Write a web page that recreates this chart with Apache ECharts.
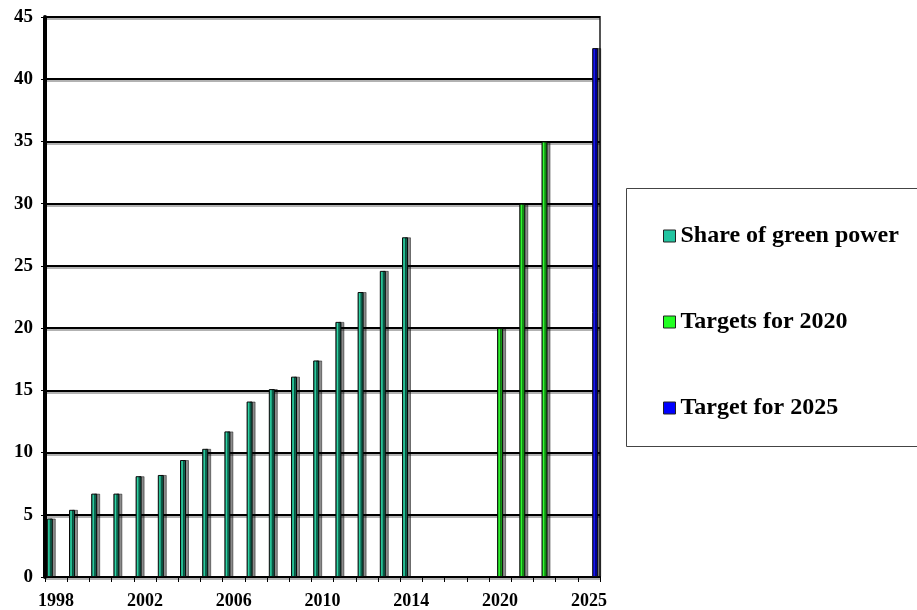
<!DOCTYPE html>
<html>
<head>
<meta charset="utf-8">
<script src="https://cdn.jsdelivr.net/npm/echarts@6/dist/echarts.min.js"></script>
<style>html,body{margin:0;padding:0;background:#fff;}#c{width:917px;height:610px;}</style>
</head>
<body>
<div id="c"></div>
<script>
// Slots along the category axis (25 slots)
const categories = ['1998','1999','2000','2001','2002','2003','2004','2005','2006','2007','2008','2009','2010','2011','2012','2013','2014','gap1','gap2','gap3','2020a','2020b','2020c','gap4','2025'];
// Tick labels shown under the slots
const tickLabels = ['1998','','','','2002','','','','2006','','','','2010','','','','2014','','','','2020','','','','2025'];
const greenShare = [4.7,5.4,6.7,6.7,8.1,8.2,9.4,10.3,11.7,14.1,15.1,16.1,17.4,20.5,22.9,24.6,27.3,null,null,null,null,null,null,null,null];
const targets2020 = [null,null,null,null,null,null,null,null,null,null,null,null,null,null,null,null,null,null,null,null,20,30,35,null,null];
const target2025 = [null,null,null,null,null,null,null,null,null,null,null,null,null,null,null,null,null,null,null,null,null,null,null,null,42.5];
const yTicks = [0,5,10,15,20,25,30,35,40,45];
const seriesNames = ['Share of green power','Targets for 2020','Target for 2025'];

function grad(stops){
  return new echarts.graphic.LinearGradient(0,0,1,0,stops.map((c,i)=>({offset:i/(stops.length-1),color:c})));
}
const FONT = '"Liberation Serif","Times New Roman",serif';
const chart = echarts.init(document.getElementById('c'), null, {renderer:'canvas'});
const barStyle = (stops) => ({
  color: grad(stops),
  borderColor:'#0a0a0a', borderWidth:1,
  shadowColor:'rgba(0,0,0,0.45)', shadowOffsetX:3, shadowOffsetY:0, shadowBlur:0
});
chart.setOption({
  animation:false,
  backgroundColor:'#fff',
  grid:{left:45,right:317,top:17,bottom:32,show:true,borderColor:'#555',borderWidth:2,backgroundColor:'transparent'},
  graphic:[{type:'rect',left:624,top:186,shape:{width:300,height:258},style:{fill:'none',stroke:'#444',lineWidth:1},z:-1}],
  legend:{
    orient:'vertical', left:658, top:219, itemGap:62, itemWidth:12, itemHeight:12, icon:'rect',
    textStyle:{fontFamily:FONT,fontWeight:'bold',fontSize:24,color:'#000'},
    data:[
      {name:seriesNames[0],itemStyle:{color:'#22c4a0',borderColor:'#222',borderWidth:1,shadowBlur:0,shadowOffsetX:0}},
      {name:seriesNames[1],itemStyle:{color:'#22ff22',borderColor:'#222',borderWidth:1,shadowBlur:0,shadowOffsetX:0}},
      {name:seriesNames[2],itemStyle:{color:'#0000ff',borderColor:'#222',borderWidth:1,shadowBlur:0,shadowOffsetX:0}}
    ]
  },
  xAxis:{
    type:'category', data:categories, boundaryGap:true,
    axisLine:{lineStyle:{color:'#000',width:2}},
    axisTick:{show:true,interval:0,length:5,lineStyle:{color:'#000',width:1}},
    axisLabel:{interval:0,margin:15,formatter:(v,i)=>tickLabels[i],fontFamily:FONT,fontWeight:'bold',fontSize:18,color:'#000'},
    splitLine:{show:false}
  },
  yAxis:{
    type:'value', min:yTicks[0], max:yTicks[yTicks.length-1], interval:5,
    axisLine:{show:true,lineStyle:{color:'#000',width:4}},
    axisTick:{show:true,length:4,lineStyle:{color:'#000'}},
    axisLabel:{margin:12,fontFamily:FONT,fontWeight:'bold',fontSize:19,color:'#000'},
    splitLine:{show:true,lineStyle:{color:'#000',width:2,shadowColor:'rgba(0,0,0,0.3)',shadowOffsetY:2,shadowBlur:0}}
  },
  series:[
    {name:seriesNames[0],type:'bar',data:greenShare,barWidth:6,barGap:'5%',
     itemStyle:barStyle(['#0a4a3a','#2fd8a8','#0f7a60','#062e24'])},
    {name:seriesNames[1],type:'bar',data:targets2020,barWidth:6,barGap:'5%',
     itemStyle:barStyle(['#0a6a0a','#33ff33','#18b818','#064a06'])},
    {name:seriesNames[2],type:'bar',data:target2025,barWidth:6,barGap:'5%',
     itemStyle:barStyle(['#000070','#1a1aff','#0000b0','#000050'])}
  ]
});
</script>
</body>
</html>
